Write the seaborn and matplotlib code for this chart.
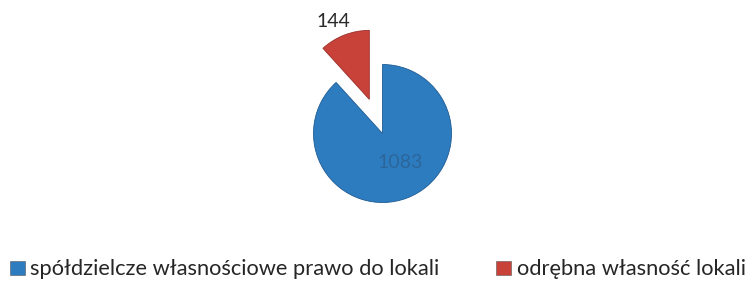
import matplotlib
matplotlib.use('Agg')
import matplotlib.pyplot as plt
import seaborn as sns
from matplotlib.patches import Patch
import numpy as np

## data
categories = ['spółdzielcze własnościowe prawo do lokali', 'odrębna własność lokali']
values = [1083, 144]
colors = ['#2e7cc0', '#c8423a']
label_colors = ['#2b5f8f', '#2a2a2a']

sns.set_theme(style='white')
plt.rcParams['font.family'] = ['Lato', 'DejaVu Sans']

fig = plt.figure(figsize=(7.5, 2.81), dpi=100)
ax = fig.add_axes([0, 0, 1, 1])

wedges, _ = ax.pie(values, colors=colors, startangle=90, counterclock=False,
                   explode=[0, 0.53], radius=1,
                   wedgeprops=dict(edgecolor='#1d5a91', linewidth=0.6))
wedges[1].set_edgecolor('#9a2e28')

# pixel scale: 1 data unit = 69 px, pie centre at (382.5, 133.5) from top-left
scale = 69.0
cx, cy = 382.5, 133.5
ax.set_xlim(-cx / scale, (750 - cx) / scale)
ax.set_ylim(-(281 - cy) / scale, cy / scale)
ax.set_aspect('auto')
ax.axis('off')

## value labels
w0, w1 = wedges
mid0 = np.deg2rad((w0.theta1 + w0.theta2) / 2)
ax.annotate(str(values[0]), (0.52 * np.cos(mid0), 0.52 * np.sin(mid0)),
            xytext=(5, 4), textcoords='offset pixels',
            ha='center', va='center', fontsize=14, color=label_colors[0], alpha=0.75)
mid1 = np.deg2rad((w1.theta1 + w1.theta2) / 2)
r1 = 0.53 + 1.24
ax.annotate(str(values[1]), (r1 * np.cos(mid1), r1 * np.sin(mid1)),
            xytext=(-5, -2), textcoords='offset pixels',
            ha='center', va='center', fontsize=14, color=label_colors[1])

handles = [Patch(facecolor=c, edgecolor='#555555', linewidth=0.4) for c in colors]
fig.legend(handles, categories, loc='lower left', bbox_to_anchor=(10 / 750, 0.006),
           ncol=2, frameon=False, fontsize=15.75, handlelength=0.68, handleheight=0.6,
           handletextpad=0.25, columnspacing=2.6, borderpad=0, borderaxespad=0)

plt.savefig('out.png', dpi=100)
